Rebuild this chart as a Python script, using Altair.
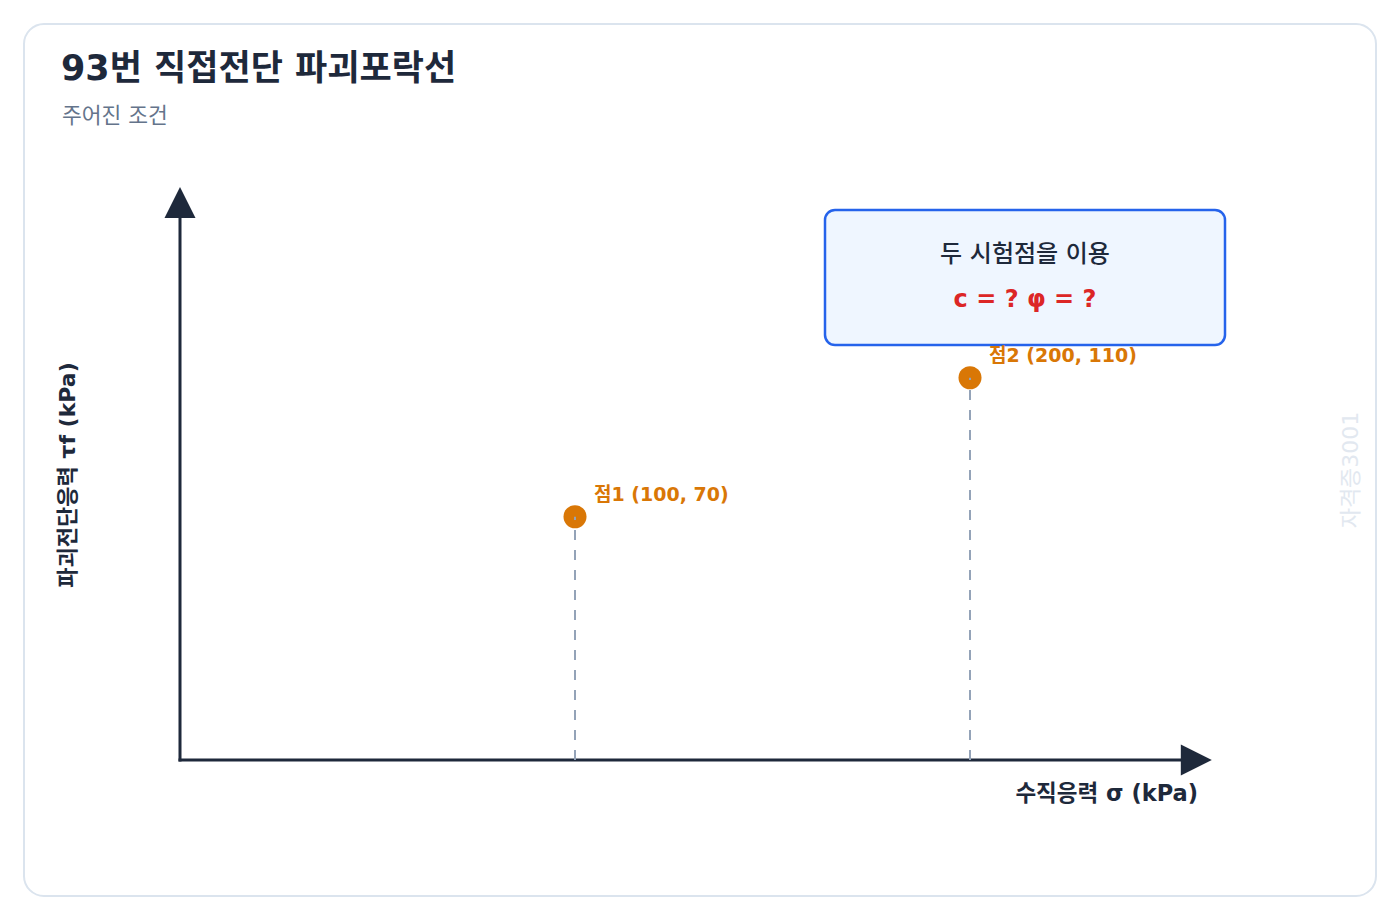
import altair as alt
import pandas as pd

# ---- data ----
point_names = ["점1", "점2"]
sigma = [100, 200]          # 수직응력 (kPa)
tau = [70, 110]             # 파괴전단응력 (kPa)
labels = ["점1 (100, 70)", "점2 (200, 110)"]

title_text = "93번 직접전단 파괴포락선"
subtitle_text = "주어진 조건"
x_title = "수직응력 σ (kPa)"
y_title = "파괴전단응력 τf (kPa)"
box_line1 = "두 시험점을 이용"
box_line2 = "c = ? φ = ?"
watermark = "자격증3001"

# axis extents (data units)
X_AXIS_END = 255
Y_AXIS_END = 158
X_ARROW = 257.3
Y_ARROW = 160.4

FONT = "DejaVu Sans, Noto Sans CJK KR, sans-serif"
DARK = "#1e293b"
ORANGE = "#d97706"

pts = pd.DataFrame({"name": point_names, "sigma": sigma, "tau": tau,
                    "label": labels, "zero": [0] * len(sigma)})
axes_df = pd.DataFrame({"x": [0, 0], "y": [0, 0], "x2": [X_AXIS_END, 0], "y2": [0, Y_AXIS_END]})
xarrow_df = pd.DataFrame({"x": [X_ARROW], "y": [0]})
yarrow_df = pd.DataFrame({"x": [0], "y": [Y_ARROW]})
one = pd.DataFrame({"a": [0]})

xs = alt.Scale(domain=[0, 250], range=[156, 1143.5], nice=False, zero=False)
ys = alt.Scale(domain=[0, 150], range=[736, 214.75], nice=False, zero=False)


def X(f):
    return alt.X(f, type="quantitative", scale=xs, axis=None)


def Y(f):
    return alt.Y(f, type="quantitative", scale=ys, axis=None)


axis_lines = alt.Chart(axes_df).mark_rule(color=DARK, strokeWidth=3, strokeCap="square").encode(
    x=X("x"), y=Y("y"), x2="x2", y2="y2")

x_arrow = alt.Chart(xarrow_df).mark_point(
    shape="M-1,-1L1,0L-1,1Z", filled=True, size=961, color=DARK, opacity=1).encode(x=X("x"), y=Y("y"))
y_arrow = alt.Chart(yarrow_df).mark_point(
    shape="M-1,1L0,-1L1,1Z", filled=True, size=961, color=DARK, opacity=1).encode(x=X("x"), y=Y("y"))

dots = alt.Chart(pts).mark_circle(size=530, color=ORANGE, opacity=1).encode(x=X("sigma"), y=Y("tau"))
drops = alt.Chart(pts).mark_rule(color="#94a3b8", strokeWidth=2, strokeDash=[10, 10]).encode(
    x=X("sigma"), y=Y("zero"), y2="tau")
point_labels = alt.Chart(pts).mark_text(
    align="left", baseline="middle", dx=19, dy=-22, fontSize=19, fontWeight="bold",
    color=ORANGE, font=FONT).encode(x=X("sigma"), y=Y("tau"), text="label")

box = alt.Chart(one).mark_rect(
    fill="#eff6ff", stroke="#2563eb", strokeWidth=2.5, cornerRadius=10).encode(
    x=alt.value(801), x2=alt.value(1201), y=alt.value(186), y2=alt.value(321))


def txt(s, x, y, **kw):
    return alt.Chart(one).mark_text(text=s, font=FONT, **kw).encode(x=alt.value(x), y=alt.value(y))


layers = [
    box,
    axis_lines, x_arrow, y_arrow,
    dots, drops, point_labels,
    txt(box_line1, 1001, 231, fontSize=24, fontWeight=500, color=DARK, align="center", baseline="middle"),
    txt(box_line2, 1001, 276, fontSize=24, fontWeight="bold", color="#dc2626", align="center", baseline="middle"),
    txt(title_text, 37, 45, fontSize=35, fontWeight="bold", color=DARK, align="left", baseline="middle"),
    txt(subtitle_text, 38, 93, fontSize=21.5, color="#64748b", align="left", baseline="middle"),
    txt(x_title, 1174, 770, fontSize=22.5, fontWeight="bold", color=DARK, align="right", baseline="middle"),
    txt(y_title, 44, 451, fontSize=22, fontWeight="bold", color=DARK, align="center", baseline="middle", angle=270),
    txt(watermark, 1327, 446, fontSize=22, color="#e2e8f0", align="center", baseline="middle", angle=270),
]

chart = alt.layer(*layers).properties(
    width=1352, height=872,
    padding={"left": 16, "top": 16, "right": 16, "bottom": 16},
    autosize=alt.AutoSizeParams(type="none"),
    background="white",
).configure_view(stroke="#dbe4ee", strokeWidth=2, cornerRadius=20, fill="white")

chart.save("out.html", embed_options={"renderer": "svg", "actions": False})
